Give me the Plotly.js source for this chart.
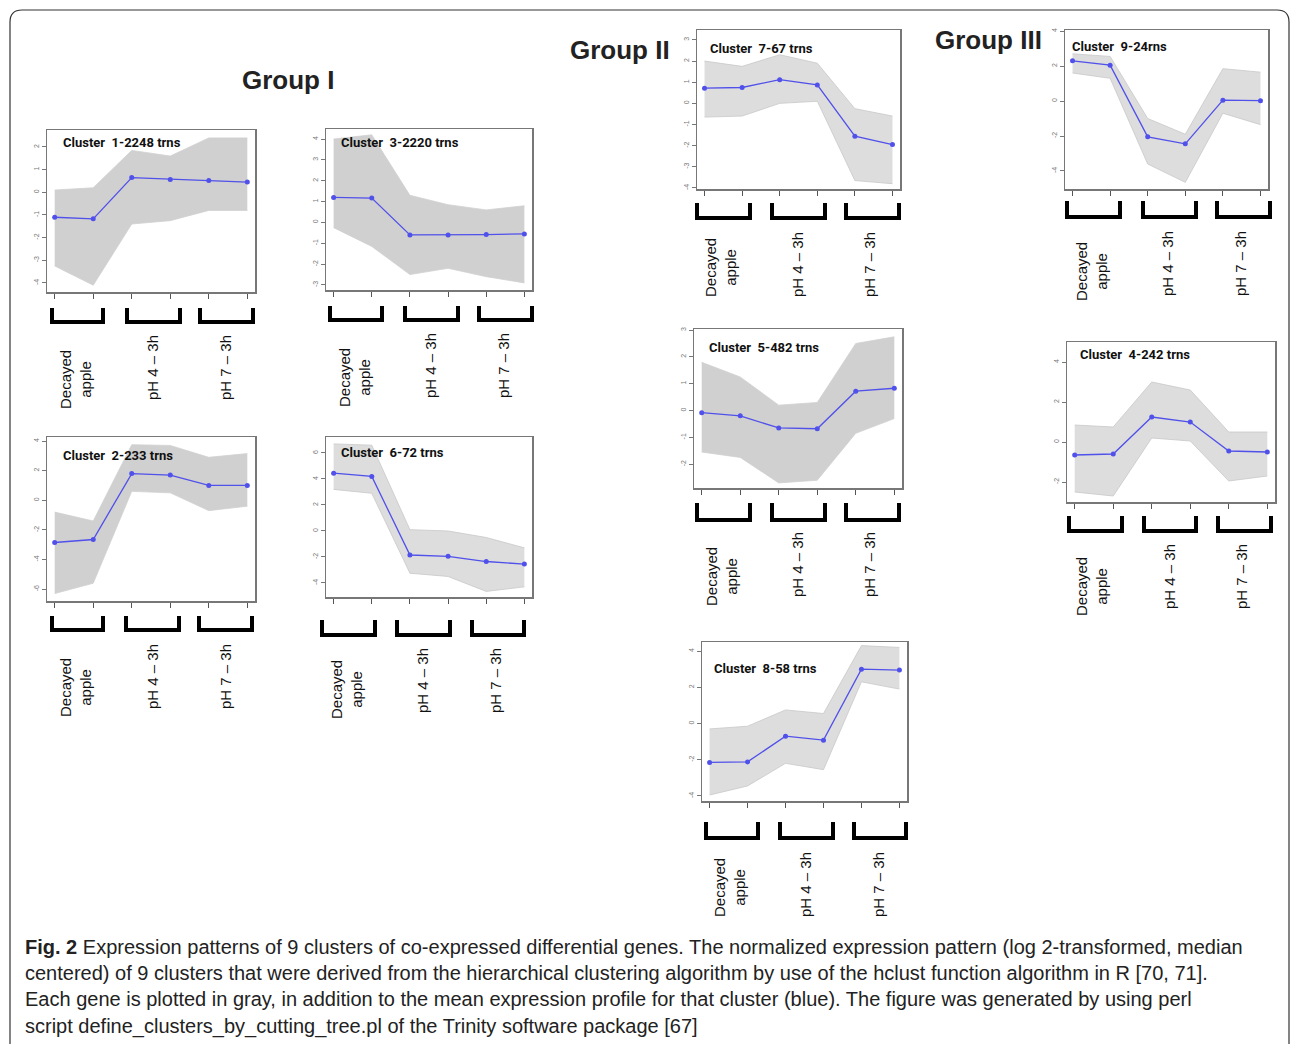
<!DOCTYPE html>
<html>
<head>
<meta charset="utf-8">
<script src="https://cdn.plot.ly/plotly-3.0.1.min.js"></script>
<style>html,body{margin:0;padding:0;background:#fff;}#chart{width:1290px;height:1044px;}</style>
</head>
<body>
<div id="chart"></div>
<script>
// ---------- data ----------
const timePoints = [1, 2, 3, 4, 5, 6];
const conditionLabels = ['Decayed<br>apple', 'pH 4 – 3h', 'pH 7 – 3h'];
const groupTitles = ['Group I', 'Group II', 'Group III'];
const clusterTitles = ['Cluster  1-2248 trns', 'Cluster  3-2220 trns', 'Cluster  2-233 trns', 'Cluster  6-72 trns',
  'Cluster  7-67 trns', 'Cluster  5-482 trns', 'Cluster  8-58 trns', 'Cluster  9-24rns', 'Cluster  4-242 trns'];

// mean profile (blue) and spread of the gray gene profiles (upper / lower)
const c1Mean  = [-1.1, -1.17, 0.65, 0.57, 0.52, 0.45];
const c1Upper = [0.1, 0.2, 1.85, 1.6, 2.4, 2.4];
const c1Lower = [-3.25, -4.1, -1.4, -1.25, -0.8, -0.8];

const c3Mean  = [1.2, 1.17, -0.6, -0.6, -0.58, -0.55];
const c3Upper = [4.0, 4.2, 1.3, 0.85, 0.6, 0.8];
const c3Lower = [-0.25, -1.15, -2.5, -2.2, -2.6, -2.9];

const c2Mean  = [-2.85, -2.65, 1.8, 1.7, 1.0, 1.0];
const c2Upper = [-0.8, -1.4, 3.75, 3.7, 2.9, 3.15];
const c2Lower = [-6.3, -5.6, 0.6, 0.5, -0.7, -0.4];

const c6Mean  = [4.45, 4.2, -1.85, -1.95, -2.35, -2.55];
const c6Upper = [6.7, 6.6, 0.1, 0.0, -0.5, -1.3];
const c6Lower = [3.2, 2.9, -3.25, -3.5, -4.65, -4.3];

const c7Mean  = [0.72, 0.75, 1.12, 0.87, -1.55, -1.95];
const c7Upper = [2.0, 1.75, 2.3, 1.9, -0.25, -0.6];
const c7Lower = [-0.65, -0.6, 0.0, 0.1, -3.65, -3.8];

const c5Mean  = [-0.08, -0.2, -0.65, -0.68, 0.72, 0.83];
const c5Upper = [1.8, 1.25, 0.2, 0.3, 2.5, 2.75];
const c5Lower = [-1.55, -1.75, -2.7, -2.6, -0.85, -0.3];

const c8Mean  = [-2.15, -2.12, -0.7, -0.92, 3.0, 2.95];
const c8Upper = [-0.3, -0.15, 0.75, 0.55, 4.3, 4.2];
const c8Lower = [-3.95, -3.45, -2.2, -2.55, 2.3, 1.9];

const c9Mean  = [2.3, 2.05, -2.05, -2.45, 0.05, 0.02];
const c9Upper = [2.7, 2.55, -1.0, -1.9, 1.85, 1.65];
const c9Lower = [1.6, 1.3, -3.6, -4.65, -0.7, -1.35];

const c4Mean  = [-0.65, -0.6, 1.25, 1.0, -0.45, -0.5];
const c4Upper = [0.85, 0.75, 3.0, 2.6, 0.5, 0.5];
const c4Lower = [-2.5, -2.7, 0.2, 0.05, -1.95, -1.7];

const seriesMean  = [c1Mean, c3Mean, c2Mean, c6Mean, c7Mean, c5Mean, c8Mean, c9Mean, c4Mean];
const seriesUpper = [c1Upper, c3Upper, c2Upper, c6Upper, c7Upper, c5Upper, c8Upper, c9Upper, c4Upper];
const seriesLower = [c1Lower, c3Lower, c2Lower, c6Lower, c7Lower, c5Lower, c8Lower, c9Lower, c4Lower];

// ---------- layout (pixel geometry) ----------
const W = 1290, H = 1044;
const px = v => v / W;
const py = v => 1 - v / H;

const panels = [
  {box:[47,255,130,292],  yr:[-4.4,2.75],  dt:1, tx:61,   ty:143, brY:[308,322], br:[[52,103],[127,180],[200,253]],     lx:[76,152,225],    ly:[380,368], dense:true},
  {box:[326,532,129,290], yr:[-3.24,4.48], dt:1, tx:339,  ty:143, brY:[306,320], br:[[330,382],[405,458],[479,532]],    lx:[355,430,503],   ly:[378,366], dense:true},
  {box:[47,255,437,601],  yr:[-6.8,4.27],  dt:2, tx:61,   ty:455, brY:[616,630], br:[[52,103],[126,179],[199,252]],     lx:[75,152,225],    ly:[688,677], dense:true},
  {box:[326,532,437,597], yr:[-5.08,7.23], dt:2, tx:339,  ty:452, brY:[620,635], br:[[322,375],[397,450],[472,524]],    lx:[346,422,495],   ly:[690,681], dense:false},
  {box:[697,900,30,189],  yr:[-4.05,3.47], dt:1, tx:708,  ty:49,  brY:[203,218], br:[[697,750],[772,825],[846,899]],    lx:[721,797,869],   ly:[268,265], dense:false},
  {box:[694,902,329,488], yr:[-2.89,3.04], dt:1, tx:707,  ty:348, brY:[503,520], br:[[697,750],[772,825],[846,899]],    lx:[721,797,869],   ly:[577,565], dense:true},
  {box:[702,907,642,801], yr:[-4.28,4.5],  dt:2, tx:712,  ty:668, brY:[822,838], br:[[706,758],[780,833],[854,906]],    lx:[729,805,878],   ly:[888,885], dense:false},
  {box:[1065,1268,30,189],yr:[-5.03,4.06], dt:2, tx:1070, ty:46,  brY:[201,217], br:[[1067,1120],[1143,1196],[1217,1270]], lx:[1091,1167,1240], ly:[272,264], dense:false},
  {box:[1067,1275,342,502],yr:[-3.0,5.0],  dt:2, tx:1078, ty:354, brY:[516,531], br:[[1069,1122],[1144,1196],[1218,1271]], lx:[1091,1169,1241], ly:[587,577], dense:false}
];

const traces = [];
const layout = {
  width: W, height: H,
  margin: {l:0, r:0, t:0, b:0},
  paper_bgcolor: '#ffffff', plot_bgcolor: '#ffffff',
  showlegend: false,
  font: {family: 'Liberation Sans, Arial, sans-serif', color: '#222'},
  shapes: [], annotations: []
};

panels.forEach((p, i) => {
  const n = i === 0 ? '' : String(i + 1);
  const xa = 'x' + n, ya = 'y' + n;
  const fill = p.dense ? 'rgb(208,208,208)' : 'rgb(221,221,221)';
  const edge = p.dense ? 'rgb(208,208,208)' : 'rgb(200,200,200)';
  traces.push({x: timePoints, y: seriesLower[i], xaxis: xa, yaxis: ya, type: 'scatter', mode: 'lines',
    line: {color: edge, width: 0.8}, hoverinfo: 'skip'});
  traces.push({x: timePoints, y: seriesUpper[i], xaxis: xa, yaxis: ya, type: 'scatter', mode: 'lines',
    fill: 'tonexty', fillcolor: fill, line: {color: edge, width: 0.8}, hoverinfo: 'skip'});
  traces.push({x: timePoints, y: seriesMean[i], xaxis: xa, yaxis: ya, type: 'scatter', mode: 'lines+markers',
    line: {color: 'rgb(80,80,235)', width: 1.3}, marker: {color: 'rgb(80,80,235)', size: 5}});

  const yt = [];
  for (let v = Math.ceil(p.yr[0] / p.dt) * p.dt; v <= p.yr[1] + 1e-9; v += p.dt) yt.push(v);

  layout['xaxis' + n] = {
    domain: [px(p.box[0]), px(p.box[1])], anchor: ya, range: [0.8, 6.2],
    tickmode: 'array', tickvals: timePoints, showticklabels: false,
    ticks: 'outside', ticklen: 5, tickcolor: '#555', tickwidth: 1,
    showgrid: false, zeroline: false, showline: true, mirror: true, linecolor: '#777', linewidth: 1.5, fixedrange: true
  };
  layout['yaxis' + n] = {
    domain: [py(p.box[3]), py(p.box[2])], anchor: xa, range: p.yr,
    tickmode: 'array', tickvals: yt, ticktext: yt.map(v => String(v)), tickangle: -90,
    tickfont: {size: 7, color: '#777'}, ticks: 'outside', ticklen: 4, tickcolor: '#777',
    showgrid: false, zeroline: false, showline: true, mirror: true, linecolor: '#777', linewidth: 1.5, fixedrange: true
  };

  // cluster title
  layout.annotations.push({xref: 'paper', yref: 'paper', x: px(p.tx), y: py(p.ty), xanchor: 'left', yanchor: 'middle',
    text: '<b>' + clusterTitles[i] + '</b>', showarrow: false, font: {size: 13, color: '#111', family: 'Roboto, Liberation Sans, sans-serif'}});

  // condition brackets + labels
  p.br.forEach((b, k) => {
    layout.shapes.push({type: 'path', xref: 'paper', yref: 'paper',
      path: `M ${px(b[0])},${py(p.brY[0])} L ${px(b[0])},${py(p.brY[1])} L ${px(b[1])},${py(p.brY[1])} L ${px(b[1])},${py(p.brY[0])}`,
      line: {color: '#000', width: 4}});
    layout.annotations.push({xref: 'paper', yref: 'paper', x: px(p.lx[k]), y: py(k === 0 ? p.ly[0] : p.ly[1]),
      xanchor: 'center', yanchor: 'middle', textangle: -90, showarrow: false,
      text: conditionLabels[k], font: {size: 15, color: '#111'}});
  });
});

// group titles
[[288, 80], [620, 50], [988, 40]].forEach((g, k) => {
  layout.annotations.push({xref: 'paper', yref: 'paper', x: px(g[0]), y: py(g[1]), xanchor: 'center', yanchor: 'middle',
    text: '<b>' + groupTitles[k] + '</b>', showarrow: false, font: {size: 26, color: '#222'}});
});

// caption
const captionLines = [
  '<b>Fig. 2</b> Expression patterns of 9 clusters of co-expressed differential genes. The normalized expression pattern (log 2-transformed, median',
  'centered) of 9 clusters that were derived from the hierarchical clustering algorithm by use of the hclust function algorithm in R [70, 71].',
  'Each gene is plotted in gray, in addition to the mean expression profile for that cluster (blue). The figure was generated by using perl',
  'script define_clusters_by_cutting_tree.pl of the Trinity software package [67]'
];
const captionY = [947, 973, 999, 1026];
captionLines.forEach((t, k) => {
  layout.annotations.push({xref: 'paper', yref: 'paper', x: px(23), y: py(captionY[k]), xanchor: 'left', yanchor: 'middle',
    text: t, showarrow: false, font: {size: 20, color: '#222'}});
});

// outer frame
layout.shapes.push({type: 'path', xref: 'paper', yref: 'paper', layer: 'below',
  path: `M ${px(10)},${py(1050)} L ${px(10)},${py(22)} Q ${px(10)},${py(10)} ${px(22)},${py(10)} L ${px(1277)},${py(10)} Q ${px(1289)},${py(10)} ${px(1289)},${py(22)} L ${px(1289)},${py(1050)}`,
  line: {color: '#333', width: 1.2}});

Plotly.newPlot('chart', traces, layout, {staticPlot: true, displayModeBar: false});
</script>
</body>
</html>
